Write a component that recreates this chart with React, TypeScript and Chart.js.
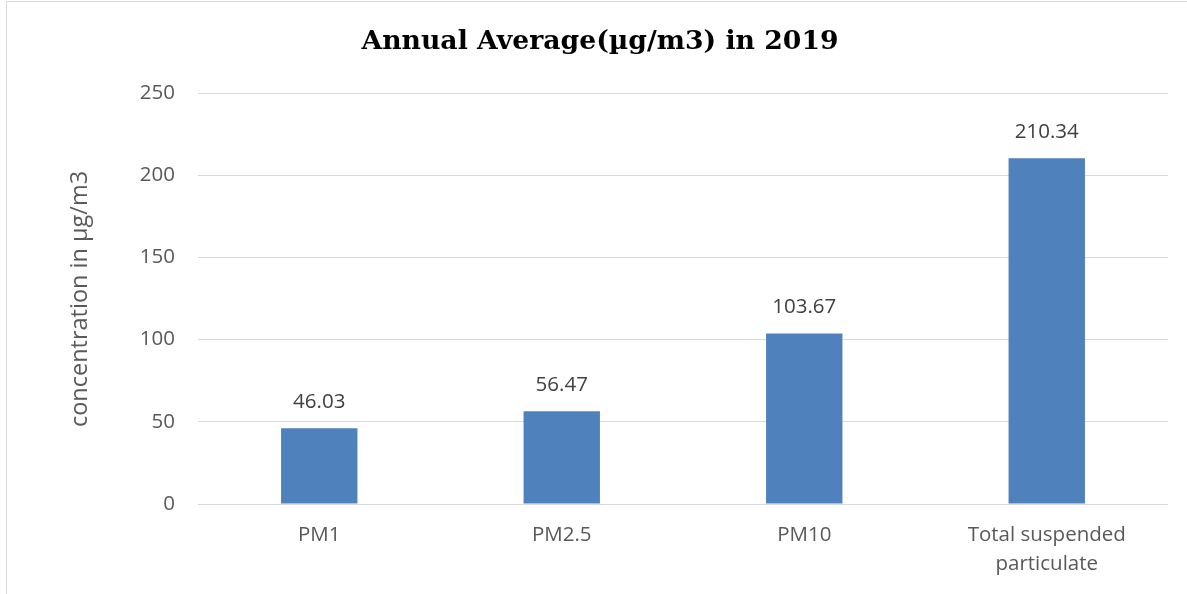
import React, { useEffect, useRef } from "react";
import { Chart, registerables } from "chart.js";

Chart.register(...registerables);

const categories: (string | string[])[] = ["PM1", "PM2.5", "PM10", ["Total suspended", "particulate"]];
const values: number[] = [46.03, 56.47, 103.67, 210.34];
const valueLabels: string[] = ["46.03", "56.47", "103.67", "210.34"];
const titleText = "Annual Average(µg/m3) in 2019";
const yAxisTitle = "concentration in µg/m3";
const yMin = 0;
const yMax = 250;
const yStep = 50;

const SANS = "'Open Sans', 'Noto Sans', sans-serif";

const dataLabelPlugin = {
  id: "dataLabels",
  afterDatasetsDraw(chart: any) {
    const ctx = chart.ctx;
    const meta = chart.getDatasetMeta(0);
    ctx.save();
    ctx.font = `20.5px ${SANS}`;
    ctx.fillStyle = "#404040";
    ctx.textAlign = "center";
    ctx.textBaseline = "middle";
    meta.data.forEach((bar: any, i: number) => {
      ctx.fillText(valueLabels[i], bar.x, bar.y - 26);
    });
    ctx.restore();
  },
};

const yTitlePlugin = {
  id: "yTitle",
  afterDraw(chart: any) {
    const ctx = chart.ctx;
    ctx.save();
    ctx.translate(80, 299);
    ctx.rotate(-Math.PI / 2);
    ctx.font = `23.5px ${SANS}`;
    ctx.fillStyle = "#595959";
    ctx.textAlign = "center";
    ctx.textBaseline = "middle";
    ctx.fillText(yAxisTitle, 0, 0);
    ctx.restore();
  },
};

export default function App() {
  const canvasRef = useRef<HTMLCanvasElement | null>(null);

  useEffect(() => {
    if (!canvasRef.current) return;
    const chart = new Chart(canvasRef.current, {
      type: "bar",
      data: {
        labels: categories,
        datasets: [
          {
            data: values,
            backgroundColor: "#4f81bd",
            borderWidth: 0,
            barPercentage: 0.315,
            categoryPercentage: 1,
          },
        ],
      },
      options: {
        animation: false,
        responsive: false,
        maintainAspectRatio: false,
        layout: { padding: { left: 32, right: 19, top: 0, bottom: 0 } },
        plugins: {
          legend: { display: false },
          tooltip: { enabled: false },
          title: {
            display: true,
            text: titleText,
            color: "#000000",
            font: { family: "'DejaVu Serif', serif", size: 26.7, weight: "bold", lineHeight: 1.2 },
            padding: { top: 26, bottom: 35 },
          },
        },
        scales: {
          x: {
            grid: { display: false, drawTicks: false },
            border: { display: false },
            ticks: {
              color: "#595959",
              font: { family: SANS, size: 20.5, lineHeight: 1.4 },
              padding: 17,
              maxRotation: 0,
              autoSkip: false,
            },
            afterFit: (s: any) => {
              s.height = 90;
            },
          },
          y: {
            min: yMin,
            max: yMax,
            grid: { color: "#d9d9d9", lineWidth: 1, drawTicks: false },
            border: { display: false },
            ticks: {
              stepSize: yStep,
              color: "#595959",
              font: { family: SANS, size: 20.5 },
              padding: 23,
            },
            afterFit: (s: any) => {
              s.width = 166;
            },
          },
        },
      },
      plugins: [dataLabelPlugin, yTitlePlugin],
    });
    return () => chart.destroy();
  }, []);

  return (
    <div style={{ position: "fixed", left: 0, top: 0, width: 1187, height: 594, background: "#fff" }}>
      <div
        style={{
          position: "absolute",
          left: 6,
          top: 1,
          width: 1200,
          height: 620,
          border: "1px solid #d9d9d9",
          boxSizing: "border-box",
        }}
      />
      <canvas ref={canvasRef} width={1187} height={594} style={{ position: "absolute", left: 0, top: 0 }} />
    </div>
  );
}
